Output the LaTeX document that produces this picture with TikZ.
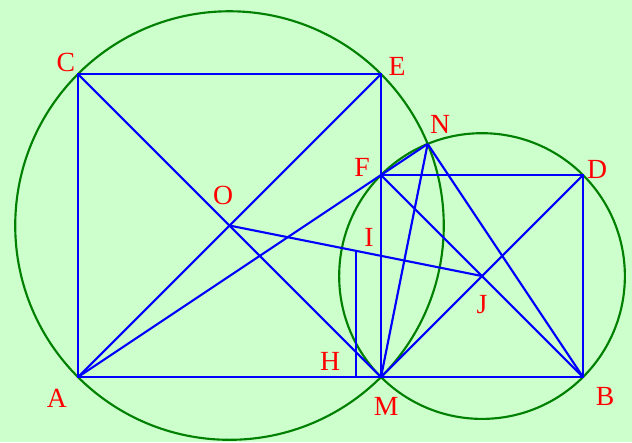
\documentclass[tikz,border=0pt]{standalone}
\usepackage{fontspec}
\setmainfont{Liberation Serif}
\definecolor{bgcol}{RGB}{204,255,204}
\definecolor{circcol}{RGB}{0,128,0}
\tikzset{
  seg/.style={blue, line width=0.6pt},
  circ/.style={circcol, line width=0.6pt},
  lbl/.style={red, font=\fontsize{7.8}{9}\selectfont, inner sep=0pt}
}
\begin{document}
\begin{tikzpicture}
    % Background and bounding box
    \fill[bgcol] (-0.772,-0.644) rectangle (5.485,3.733);
    \useasboundingbox (-0.772,-0.644) rectangle (5.485,3.733);

    % Points of the two squares
    \coordinate (A) at (0,0);
    \coordinate (M) at (3,0);
    \coordinate (B) at (5,0);
    \coordinate (C) at (0,3);
    \coordinate (E) at (3,3);
    \coordinate (F) at (3,2);
    \coordinate (D) at (5,2);
    \coordinate (O) at (1.5,1.5);
    \coordinate (J) at (4,1);
    \coordinate (N) at (45/13,30/13);
    \coordinate (I) at (2.75,1.25);
    \coordinate (H) at (2.75,0);

    % Circumcircles
    \draw[circ] (O) circle ({1.5*sqrt(2)});
    \draw[circ] (J) circle ({sqrt(2)});

    % Squares
    \draw[seg] (A) -- (M) -- (E) -- (C) -- cycle;
    \draw[seg] (M) -- (B) -- (D) -- (F) -- cycle;

    % Diagonals
    \draw[seg] (A) -- (E);
    \draw[seg] (C) -- (M);
    \draw[seg] (F) -- (B);
    \draw[seg] (M) -- (D);

    % Lines through N
    \draw[seg] (A) -- (N);
    \draw[seg] (M) -- (N);
    \draw[seg] (N) -- (B);

    % Line of centres and perpendicular
    \draw[seg] (O) -- (J);
    \draw[seg] (I) -- (H);

    % Labels
    \node[lbl] (labA) at (-0.208,-0.208) {A};
    \node[lbl] (labM) at (3.05,-0.287) {M};
    \node[lbl] (labB) at (5.218,-0.188) {B};
    \node[lbl] (labC) at (-0.119,3.119) {C};
    \node[lbl] (labE) at (3.158,3.079) {E};
    \node[lbl] (labN) at (3.584,2.505) {N};
    \node[lbl] (labF) at (2.812,2.079) {F};
    \node[lbl] (labD) at (5.139,2.059) {D};
    \node[lbl] (labO) at (1.436,1.802) {O};
    \node[lbl] (labI) at (2.881,1.386) {I};
    \node[lbl] (labJ) at (4.0,0.713) {J};
    \node[lbl] (labH) at (2.495,0.158) {H};
\end{tikzpicture}
\end{document}
